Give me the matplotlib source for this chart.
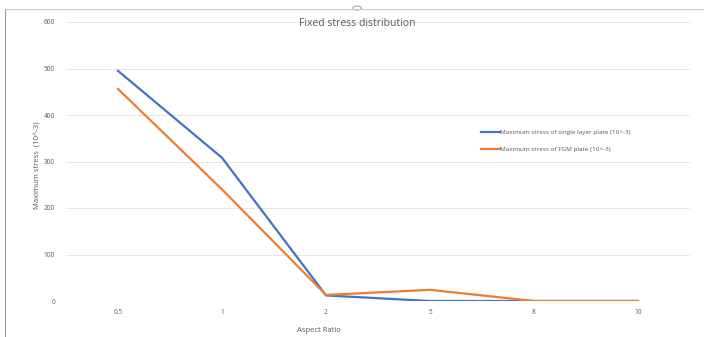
import matplotlib.pyplot as plt
from matplotlib.lines import Line2D
from matplotlib.patches import Circle

# data
ratios = ['0.5', '1', '2', '5', '8', '10']
single_layer = [495, 308, 12, 0, 0, 0]
fgm = [456, 240, 13, 24, 0, 0]

plt.rcParams['font.family'] = ['Open Sans', 'DejaVu Sans']

fig = plt.figure(figsize=(7.04, 3.37), dpi=100)
ax = fig.add_axes([66 / 704, 36 / 337, 624 / 704, 279 / 337])

x = range(len(ratios))
ax.plot(x, single_layer, color='#4472C4', lw=1.6, label='Maximum stress of single layer plate (10^-3)')
ax.plot(x, fgm, color='#ED7D31', lw=1.6, label='Maximum stress of FGM plate (10^-3)')

ax.set_xlim(-0.5, len(ratios) - 0.5)
ax.set_ylim(0, 600)
ax.set_yticks(range(0, 601, 100))
ax.set_xticks(list(x))
ax.set_xticklabels(ratios)
ax.tick_params(length=0, labelsize=4.7, colors='#595959')
ax.tick_params(axis='y', pad=8)
ax.tick_params(axis='x', pad=6)
ax.grid(axis='y', color='#E3E3E3', lw=0.6)
ax.set_axisbelow(True)
for s in ax.spines.values():
    s.set_visible(False)

ax.set_xlabel('Aspect Ratio', fontsize=5.5, color='#595959', labelpad=8, x=0.405)
ax.set_ylabel('Maximum stress  (10^-3)', fontsize=5.5, color='#595959')
ax.yaxis.set_label_coords(-0.04, 0.487)
fig.text(357 / 704, 1 - 23 / 337, 'Fixed stress distribution', fontsize=7.5,
         color='#595959', ha='center', va='center')

leg = fig.legend(loc='upper left', bbox_to_anchor=(478 / 704, 1 - 127 / 337),
                 frameon=False, fontsize=4.6, handlelength=3.0, labelspacing=1.8,
                 handletextpad=0.1, borderaxespad=0)
for t in leg.get_texts():
    t.set_color('#595959')

# chart frame, as in the screenshot
fig.add_artist(Line2D([5 / 704, 5 / 704], [0, 1 - 9 / 337], color='#9A9A9A', lw=0.8))
fig.add_artist(Line2D([5 / 704, 1], [1 - 9 / 337, 1 - 9 / 337], color='#C8C8C8', lw=0.8))
fig.add_artist(Circle((357 / 704, 1 - 8 / 337), 0.006, transform=fig.transFigure,
                      facecolor='white', edgecolor='#9A9A9A', lw=0.7))

fig.savefig('out.png', dpi=100)
